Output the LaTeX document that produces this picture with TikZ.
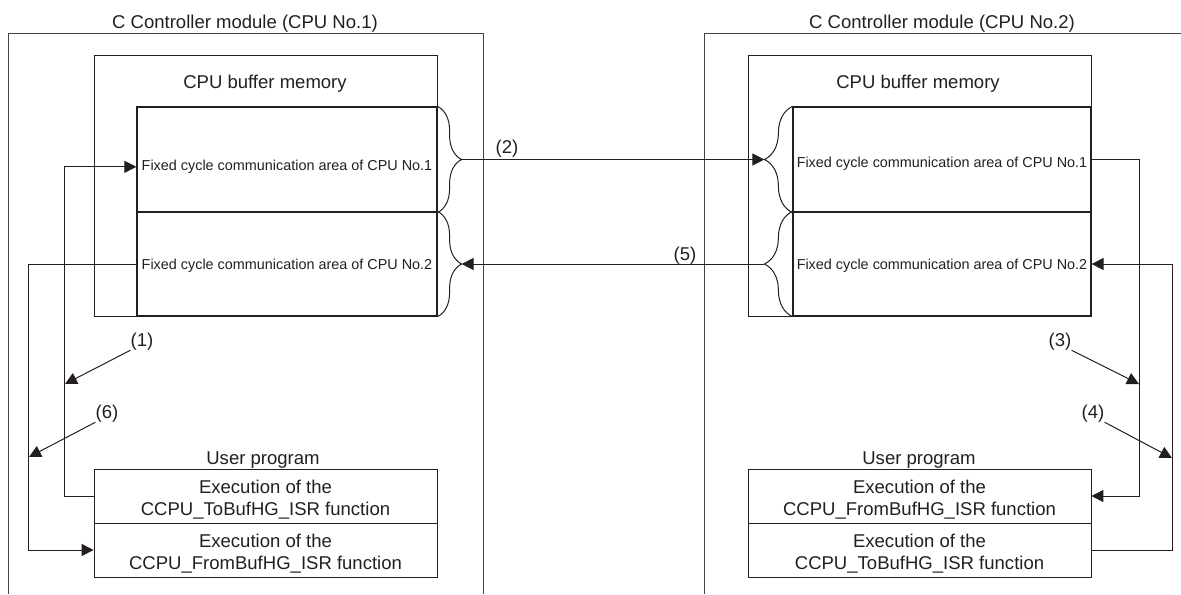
\documentclass[tikz,border=0pt]{standalone}
\usepackage{fontspec}
\setmainfont{Liberation Sans}
\usetikzlibrary{arrows.meta,positioning,calc,fit,decorations.pathreplacing}
\definecolor{ink}{HTML}{231F20}
\newcommand{\bigfont}{\fontsize{13.9}{16.5}\selectfont}
\newcommand{\areafont}{\fontsize{10.8}{13}\selectfont}

\begin{document}
\begin{tikzpicture}[x=0.75pt, y=-0.75pt,
  frame/.style={draw=ink!85, line width=0.6pt},
  box/.style={draw=ink, line width=0.6pt, inner sep=0pt},
  area/.style={box, line width=0.9pt},
  txt/.style={text=ink, inner sep=0pt, yshift=-2.5pt},
  areatxt/.style={txt, font=\areafont},
  exectxt/.style={txt, font=\bigfont, align=center},
  ttl/.style={txt, font=\bigfont},
  numtag/.style={txt, font=\bigfont},
  arr/.style={-{Triangle[length=9pt,width=9pt]}, line width=0.75pt, draw=ink},
  brc/.style={decorate, decoration={brace, amplitude=#1}, line width=0.75pt, draw=ink}
]
  \useasboundingbox (0,0) rectangle (1181,594);

  % CPU No.1
  \node[ttl] (t1) at (245,20) {C Controller module (CPU No.1)};
  \draw[frame] (8,594) |- (483,33) -- (483,594);
  \node[box, fit={(94,55) (437,316)}] (buf1) {};
  \node[ttl] (bt1) at (265,80) {CPU buffer memory};
  \node[area, fit={(137,107) (437,212)}] (a11) {};
  \node[area, fit={(137,212) (437,316)}] (a12) {};
  \node[areatxt] (x11) at ($(a11.center)+(0,4)$) {Fixed cycle communication area of CPU No.1};
  \node[areatxt] (x12) at ($(a12.center)+(0,-2)$) {Fixed cycle communication area of CPU No.2};
  \node[ttl] (u1) at (263,457) {User program};
  \node[box, fit={(94,469) (437,523)}] (tb1) {};
  \node[box, fit={(94,523) (437,577)}] (fb1) {};
  \node[exectxt] (xt1) at (tb1.center) {Execution of the\\CCPU\_ToBufHG\_ISR function};
  \node[exectxt] (xf1) at (fb1.center) {Execution of the\\CCPU\_FromBufHG\_ISR function};

  % CPU No.2
  \node[ttl] (t2) at (942,20) {C Controller module (CPU No.2)};
  \draw[frame] (704,594) |- (1181,33);
  \node[box, fit={(748,55) (1091,316)}] (buf2) {};
  \node[ttl] (bt2) at (918,80) {CPU buffer memory};
  \node[area, fit={(793,107) (1091,212)}] (a21) {};
  \node[area, fit={(793,212) (1091,316)}] (a22) {};
  \node[areatxt] (x21) at ($(a21.center)+(0,1)$) {Fixed cycle communication area of CPU No.1};
  \node[areatxt] (x22) at ($(a22.center)+(0,-2)$) {Fixed cycle communication area of CPU No.2};
  \node[ttl] (u2) at (919,457) {User program};
  \node[box, fit={(748,469) (1091,523)}] (fb2) {};
  \node[box, fit={(748,523) (1091,577)}] (tb2) {};
  \node[exectxt] (xf2) at (fb2.center) {Execution of the\\CCPU\_FromBufHG\_ISR function};
  \node[exectxt] (xt2) at (tb2.center) {Execution of the\\CCPU\_ToBufHG\_ISR function};

  % braces
  \draw[brc=18pt] (a11.north east) -- (a11.south east);
  \draw[brc=18pt] (a12.north east) -- (a12.south east);
  \draw[brc=21pt] (a21.south west) -- (a21.north west);
  \draw[brc=21pt] (a22.south west) -- (a22.north west);
  \coordinate (b11) at ($(a11.east)+(24,0)$);
  \coordinate (b12) at ($(a12.east)+(24,0)$);
  \coordinate (b21) at ($(a21.west)-(28,0)$);
  \coordinate (b22) at ($(a22.west)-(28,0)$);

  \draw[arr] (b11) -- (b21);
  \draw[arr] (b22) -- (b12);
  \node[numtag] (n2) at (507,145) {(2)};
  \node[numtag] (n5) at (685,252) {(5)};

  % user program links
  \draw[arr] (tb1.west) -- ++(-29,0) |- (x11.west -| a11.west);
  \draw[arr] (a12.west) -- ++(-108,0) |- (fb1.west);
  \draw[arr] (a21.east) -- ++(48,0) |- (fb2.east);
  \draw[arr] (tb2.east) -- ++(81,0) |- (a22.east);

  \coordinate (c1) at (65,384);
  \coordinate (c6) at (29,457);
  \coordinate (c3) at (1139,384);
  \coordinate (c4) at (1172,458);
  \node[numtag] (n1) at (142,338) {(1)};
  \node[numtag] (n6) at (107,410) {(6)};
  \node[numtag] (n3) at (1060,338) {(3)};
  \node[numtag] (n4) at (1093,410) {(4)};
  \draw[arr] (n1.south west) -- (c1);
  \draw[arr] (n6.south west) -- (c6);
  \draw[arr] (n3.south east) -- (c3);
  \draw[arr] (n4.south east) -- (c4);
\end{tikzpicture}
\end{document}
